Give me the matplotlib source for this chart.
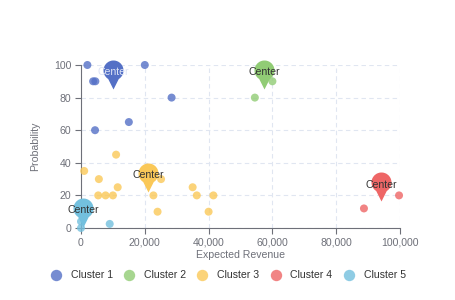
import numpy as np
import matplotlib
matplotlib.use("Agg")
from matplotlib import pyplot as plt
from matplotlib.path import Path
from matplotlib.lines import Line2D

plt.rcParams['font.family'] = ['Liberation Sans', 'DejaVu Sans']

# cluster members (expected revenue, probability)
c1_x = [2000, 3800, 4500, 20000, 28400, 15000, 4400]
c1_y = [100, 90, 90, 100, 80, 65, 60]
c2_x = [60000, 54500]
c2_y = [90, 80]
c3_x = [1000, 11000, 5600, 5400, 7700, 10000, 11500, 22700, 25100, 24000, 35000, 36300, 41500, 40000]
c3_y = [35, 45, 30, 20, 20, 20, 25, 20, 30, 10, 25, 20, 20, 10]
c4_x = [88700, 99700]
c4_y = [12, 20]
c5_x = [0, 0, 500, 9000]
c5_y = [0, 4, 8, 2.5]

# cluster centers
cen_x = [10000, 57400, 21100, 94200, 700]
cen_y = [97, 97, 34, 28, 12.5]

names = ['Cluster 1', 'Cluster 2', 'Cluster 3', 'Cluster 4', 'Cluster 5']
colors = ['#5470c6', '#91cc75', '#fac858', '#ee6666', '#73c0de']
xs = [c1_x, c2_x, c3_x, c4_x, c5_x]
ys = [c1_y, c2_y, c3_y, c4_y, c5_y]

# pin marker: circular head centred on origin, tip below
arc = Path.arc(-58, 238)
verts = np.vstack([arc.vertices, [[0, -1.9]], [arc.vertices[0]]])
codes = list(arc.codes) + [Path.LINETO, Path.CLOSEPOLY]
pin = Path(verts, codes)

fs = 7.6

fig = plt.figure(figsize=(4.56, 3.0), dpi=100)
ax = fig.add_axes([81/456, 1-228/300, 319/456, 163/300])

for i in range(5):
    ax.scatter(xs[i], ys[i], s=(8*0.72)**2, color=colors[i], alpha=0.8,
               edgecolors='none', clip_on=False, zorder=3)
    ax.plot(cen_x[i], cen_y[i], marker=pin, markersize=38*0.72, color=colors[i],
            markeredgewidth=0, clip_on=False, zorder=4)
    tc = '#dde3f5' if i == 0 else '#333333'
    ax.text(cen_x[i], cen_y[i] - 1.5, 'Center', ha='center', va='center',
            fontsize=fs, color=tc, zorder=5, clip_on=False)

ax.set_xlim(0, 100000)
ax.set_ylim(0, 100)
ax.set_xticks([0, 20000, 40000, 60000, 80000, 100000])
ax.set_xticklabels(['0', '20,000', '40,000', '60,000', '80,000', '100,000'])
ax.set_yticks([0, 20, 40, 60, 80, 100])
ax.grid(True, color='#e0e6f1', linestyle=(0, (4, 3)), linewidth=0.8)
ax.set_axisbelow(True)
for s in ['top', 'right']:
    ax.spines[s].set_visible(False)
for s in ['left', 'bottom']:
    ax.spines[s].set_color('#6e7079')
    ax.spines[s].set_linewidth(0.8)
ax.tick_params(axis='both', colors='#6e7079', labelsize=fs, length=4, width=0.8, pad=3)
ax.set_xlabel('Expected Revenue', fontsize=fs, color='#6e7079', labelpad=2)
ax.set_ylabel('Probability', fontsize=fs, color='#6e7079', labelpad=10)

handles = [Line2D([], [], linestyle='none', marker='o', markersize=8.2,
                  color=colors[i], alpha=0.8, markeredgewidth=0) for i in range(5)]
fig.legend(handles, names, loc='center', bbox_to_anchor=(228/456, 1-275.5/300), ncol=5,
           frameon=False, fontsize=fs, handlelength=1.1, handletextpad=0.85,
           columnspacing=1.0, labelcolor='#333333')

fig.savefig('out.png', dpi=100, facecolor='white')
